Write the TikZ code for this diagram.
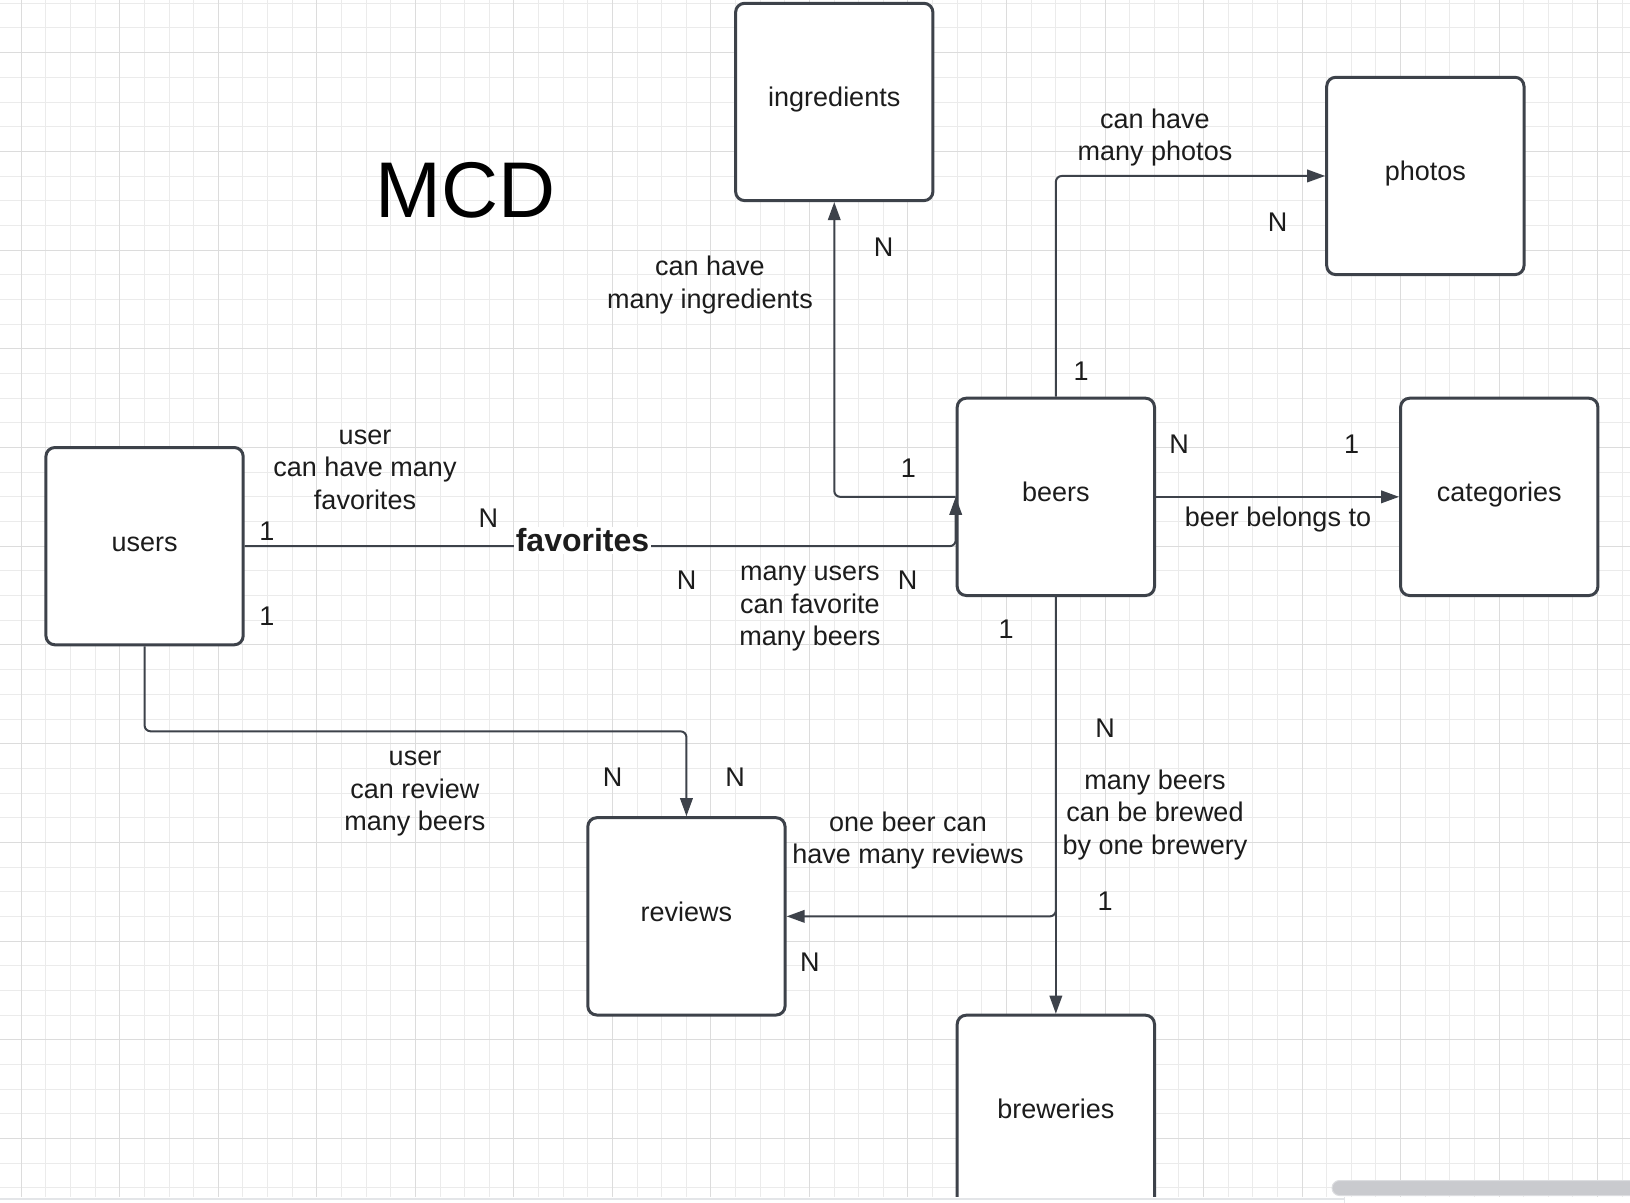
\documentclass[tikz,border=0pt]{standalone}
\usepackage{fontspec}
\setmainfont{Liberation Sans}
\usetikzlibrary{arrows.meta}
\definecolor{ink}{HTML}{1C1C1C}
\definecolor{edgecol}{HTML}{3D424A}
\definecolor{gridminor}{HTML}{EBEBEB}
\definecolor{gridmajor}{HTML}{DCDCDC}
\definecolor{scrollfill}{HTML}{C9CACE}
\definecolor{scrolledge}{HTML}{DCDDE0}
\definecolor{stripcol}{HTML}{E3E5E8}
\newcommand\labfont{\fontsize{27}{32.5}\selectfont}
\newcommand\favfont{\fontsize{32}{38}\selectfont\bfseries}
\newcommand\titlefont{\fontsize{79}{90}\selectfont}
\begin{document}
\begin{tikzpicture}[x=1pt,y=-1pt,
  entity/.style={draw=edgecol, line width=3pt, fill=white, rounded corners=9pt,
    minimum width=197.3pt, minimum height=197.3pt, inner sep=0pt,
    font=\labfont, text=ink, text height=10pt, text depth=0pt},
  conn/.style={draw=edgecol, line width=2pt, rounded corners=6pt, -{Triangle[length=18pt,width=12.5pt]}},
  lbl/.style={font=\labfont, text=ink, inner sep=0pt, anchor=base},
  note/.style={font=\labfont, text=ink, inner sep=0pt, align=center, anchor=center},
]
\useasboundingbox (0,0) rectangle (1630,1202);
\fill[white] (0,0) rectangle (1630,1202);
% grid (snapped to pixel centres)
\foreach \k in {0,...,65}{\pgfmathsetmacro\xx{floor(21.3+\k*24.63)+0.5}\draw[gridminor,line width=1pt] (\xx,0) -- (\xx,1197);}
\foreach \k in {0,...,48}{\pgfmathsetmacro\yy{floor(3.3+\k*24.68)+0.5}\draw[gridminor,line width=1pt] (0,\yy) -- (1630,\yy);}
\foreach \k in {0,4,...,64}{\pgfmathsetmacro\xx{floor(21.3+\k*24.63)+0.5}\draw[gridmajor,line width=1pt] (\xx,0) -- (\xx,1197);}
\foreach \k in {2,6,...,46}{\pgfmathsetmacro\yy{floor(3.3+\k*24.68)+0.5}\draw[gridmajor,line width=1pt] (0,\yy) -- (1630,\yy);}

% entities
\node[entity] (ingredients) at (834.25,101.95) {ingredients};
\node[entity] (photos) at (1425.35,175.95) {photos};
\node[entity] (beers) at (1055.85,496.85) {beers};
\node[entity] (categories) at (1499.25,496.85) {categories};
\node[entity] (users) at (144.55,546.15) {users};
\node[entity] (reviews) at (686.45,916.35) {reviews};
\node[entity] (breweries) at (1055.85,1113.85) {breweries};

% connectors
\draw[conn] (beers.west) -| (ingredients.south);
\draw[conn] (beers.north) |- (photos.west);
\draw[conn] (beers.east) -- (categories.west);
\draw[conn] (beers.south) -- (breweries.north);
\draw[conn] (beers.south) |- (reviews.east);
\draw[conn] (users.east) -- (users.east -| beers.west) -- (beers.west);
\draw[conn] (users.south) -- ++(0,85) -| (reviews.north);

% title
\node[font=\titlefont, text=black, inner sep=0pt, anchor=base] (mcd) at (465.5,217.3) {MCD};

% relation texts
\node[note] (tingr) at (710,285.2) {can have\\many ingredients};
\node[note] (tphot) at (1155,137.7) {can have\\many photos};
\node[note] (tufav) at (365,469.6) {user\\can have many\\favorites};
\node[note] (tmany) at (810,608.6) {many users\\can favorite\\many beers};
\node[note] (tbrew) at (1155,815) {many beers\\can be brewed\\by one brewery};
\node[note] (trevb) at (908,840.7) {one beer can\\have many reviews};
\node[note] (trevu) at (415,793.6) {user\\can review\\many beers};
\node[lbl] (tcat) at (1278,526.7) {beer belongs to};
\node[font=\favfont, text=ink, fill=white, inner sep=1.5pt, anchor=base] (fav) at (582.5,551.7) {favorites};

% cardinalities
\node[lbl] (c1) at (883.6,256) {N};
\node[lbl] (c2) at (908.3,477.7) {1};
\node[lbl] (c3) at (1277.7,231.7) {N};
\node[lbl] (c4) at (1081,380) {1};
\node[lbl] (c5) at (1179,453.3) {N};
\node[lbl] (c6) at (1351.7,453.3) {1};
\node[lbl] (c7) at (267,540) {1};
\node[lbl] (c8) at (267,625) {1};
\node[lbl] (c9) at (488.3,527) {N};
\node[lbl] (c10) at (686.5,589) {N};
\node[lbl] (c11) at (907.5,589) {N};
\node[lbl] (c12) at (1006.2,638.6) {1};
\node[lbl] (c13) at (1105,737.4) {N};
\node[lbl] (c14) at (1105,910) {1};
\node[lbl] (c15) at (809.8,971.2) {N};
\node[lbl] (c16) at (612.7,786) {N};
\node[lbl] (c17) at (735,786) {N};

% bottom strip and scrollbar
\fill[white] (-5,1197) rectangle (1640,1215);
\draw[stripcol, line width=2pt] (0,1198.5) -- (1344,1198.5);
\draw[stripcol, line width=1pt] (1344,1197) -- (1344,1215);
\draw[scrolledge, fill=scrollfill, line width=1pt, rounded corners=7.5pt] (1332,1180.5) rectangle (1645,1195.5);
\end{tikzpicture}
\end{document}
